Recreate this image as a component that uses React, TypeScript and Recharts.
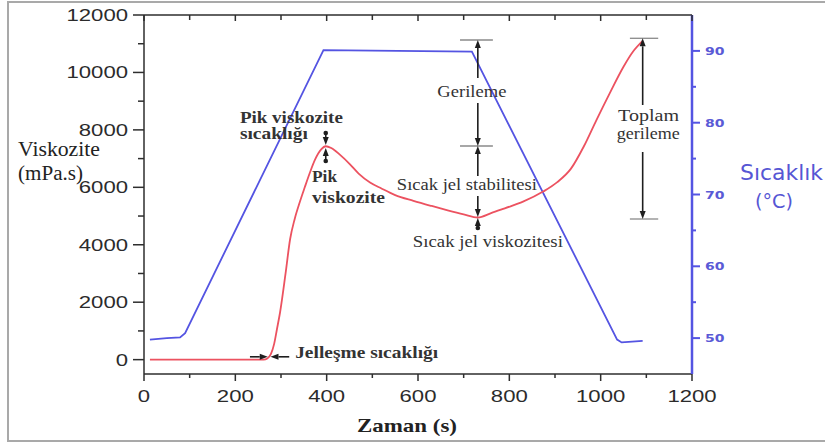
import { ComposedChart, Line, XAxis, YAxis, ReferenceLine, ReferenceDot } from 'recharts';

// axis ticks
const timeTicks = [0, 100, 200, 300, 400, 500, 600, 700, 800, 900, 1000, 1100, 1200];
const viscTicks = [0, 1000, 2000, 3000, 4000, 5000, 6000, 7000, 8000, 9000, 10000, 11000, 12000];
const tempTicks = [50, 55, 60, 65, 70, 75, 80, 85, 90];

// temperature program (blue, right axis)
const tempTime = [13, 50, 79, 90, 393, 718, 1036, 1046, 1092];
const tempValue = [49.8, 50.0, 50.1, 50.7, 90.1, 89.9, 49.8, 49.4, 49.6];

// viscosity curve (red, left axis)
const viscTime = [13, 150, 262, 270, 278, 285, 291, 298, 310, 320, 330, 341, 352, 363, 375, 388, 398, 410, 430, 450, 470, 495, 520, 550, 590, 630, 665, 700, 731, 760, 790, 830, 875, 905, 935, 963, 991, 1020, 1050, 1071, 1092];
const viscValue = [0, 0, 0, 40, 200, 550, 1050, 1650, 3000, 4200, 4900, 5480, 6000, 6500, 6980, 7320, 7430, 7370, 7120, 6820, 6480, 6170, 5960, 5730, 5530, 5350, 5200, 5060, 4950, 5100, 5270, 5500, 5860, 6180, 6650, 7420, 8350, 9280, 10200, 10730, 11100];

// annotation texts (time, viscosity of baseline)
const noteLabels = ['Pik viskozite', 'sıcaklığı', 'Pik', 'viskozite', 'Gerileme', 'Sıcak jel stabilitesi', 'Sıcak jel viskozitesi', 'Toplam', 'gerileme', 'Jelleşme sıcaklığı'];
const noteTime = [210, 210, 368, 368, 718, 707, 753, 1105, 1104, 331];
const noteVisc = [8240, 7683, 6185, 5454, 9145, 5907, 3922, 8309, 7683, 57];

// arrows: tail -> tip
const arrowFrom = [[731, 9806], [731, 8936], [731, 6394], [731, 5698], [731, 4584], [398, 7891], [398, 6916], [1092, 8866], [1092, 7230], [232, 99], [318, 99]];
const arrowTo = [[731, 11130], [731, 7439], [731, 7439], [731, 4967], [731, 4930], [398, 7474], [398, 7369], [1092, 11189], [1092, 4897], [271, 99], [277, 99]];
const arrowDot = [false, false, false, false, true, true, true, false, false, false, false];

// gray cap bars of the retrogradation markers
const capFrom = [692, 692, 1064, 1064];
const capTo = [764, 764, 1126, 1126];
const capVisc = [11130, 7439, 11189, 4897];

const tempData = tempTime.map((t, i) => ({ t, temp: tempValue[i] }));
const viscData = viscTime.map((t, i) => ({ t, visc: viscValue[i] }));

const PLOT_TOP = 15;
const AXIS = '#2e2e2e';
const RED = '#ec5260';
const BLUE = '#5454e2';
const SANS = '"Liberation Sans", Arial, sans-serif';
const SERIF = '"Liberation Serif", "Times New Roman", serif';
const WIDE = '"DejaVu Sans", Verdana, sans-serif';

// note text styling
const noteAnchor = ['start', 'start', 'start', 'start', 'middle', 'middle', 'middle', 'middle', 'middle', 'start'];
const noteWidth = [103, 68, 25, 73, 69, 140, 150, 61, 63, 143];
const noteBold = [true, true, true, true, false, false, false, false, false, true];

const BottomTick = ({ x, y, payload }: any) => {
  const major = payload.value % 200 === 0;
  const label = String(payload.value);
  return (
    <g>
      <line x1={x} x2={x} y1={y} y2={y + (major ? 7 : 4)} stroke={AXIS} strokeWidth={1.5} />
      <line x1={x} x2={x} y1={PLOT_TOP} y2={PLOT_TOP + (major ? 6 : 5)} stroke={AXIS} strokeWidth={1.5} />
      {major && (
        <text x={x} y={y + 28} textAnchor="middle" fontFamily={SANS} fontSize={17} fill="#2b2b2b"
          textLength={label.length * 12.3} lengthAdjust="spacingAndGlyphs">
          {label}
        </text>
      )}
    </g>
  );
};

const LeftTick = ({ x, y, payload }: any) => {
  const major = payload.value % 2000 === 0;
  const label = String(payload.value);
  return (
    <g>
      <line x1={x - (major ? 11 : 6)} x2={x} y1={y} y2={y} stroke={AXIS} strokeWidth={1.5} />
      {major && (
        <text x={x - 16} y={y + 6} textAnchor="end" fontFamily={SANS} fontSize={16} fill="#2b2b2b"
          textLength={label.length * 12.3} lengthAdjust="spacingAndGlyphs">
          {label}
        </text>
      )}
    </g>
  );
};

const RightTick = ({ x, y, payload }: any) => {
  const major = payload.value % 10 === 0;
  return (
    <g>
      <line x1={x} x2={x + (major ? 8 : 4)} y1={y} y2={y} stroke={BLUE} strokeWidth={2} />
      {major && (
        <text x={x + 13} y={y + 4} fontFamily={WIDE} fontWeight="bold" fontSize={11} fill="#5a5ad6"
          textLength={19.5} lengthAdjust="spacingAndGlyphs">
          {payload.value}
        </text>
      )}
    </g>
  );
};

const arrowShape = (dot: boolean) => (p: any) => {
  const { x1, y1, x2, y2 } = p;
  const len = Math.hypot(x2 - x1, y2 - y1) || 1;
  const ux = (x2 - x1) / len;
  const uy = (y2 - y1) / len;
  const bx = x2 - ux * 8;
  const by = y2 - uy * 8;
  const pts = `${x2},${y2} ${bx - uy * 3},${by + ux * 3} ${bx + uy * 3},${by - ux * 3}`;
  return (
    <g>
      <line x1={x1} y1={y1} x2={bx} y2={by} stroke="#1e1e1e" strokeWidth={1.6} />
      <polygon points={pts} fill="#1e1e1e" />
      {dot && <circle cx={x1} cy={y1} r={2.3} fill="#1e1e1e" />}
    </g>
  );
};

const noteShape = (i: number) => (p: any) => (
  <text x={p.cx} y={p.cy} textAnchor={noteAnchor[i]} fontFamily={SERIF} fontSize={16}
    fontWeight={noteBold[i] ? 'bold' : 'normal'} fill="#333"
    textLength={noteWidth[i]} lengthAdjust="spacingAndGlyphs">
    {noteLabels[i]}
  </text>
);

export default function App() {
  return (
    <div style={{ position: 'absolute', left: 0, top: 0, width: 825, height: 443, overflow: 'hidden', background: '#fff' }}>
      <div style={{ position: 'absolute', left: 7, top: 1, width: 850, height: 441, border: '2px solid #a9a9a9', boxSizing: 'border-box' }} />
      <div style={{ position: 'absolute', left: 0, top: 0 }}>
        <ComposedChart width={825} height={443} margin={{ top: PLOT_TOP, right: 73, bottom: 39, left: 84 }}>
          <XAxis dataKey="t" type="number" domain={[0, 1200]} ticks={timeTicks} interval={0}
            tick={<BottomTick />} tickSize={0} tickMargin={0} tickLine={false} height={30}
            axisLine={{ stroke: AXIS, strokeWidth: 1.5 }} allowDataOverflow />
          <YAxis yAxisId="left" domain={[-500, 12000]} ticks={viscTicks} interval={0}
            tick={<LeftTick />} tickSize={0} tickMargin={0} tickLine={false} width={60}
            axisLine={{ stroke: AXIS, strokeWidth: 1.5 }} allowDataOverflow />
          <YAxis yAxisId="right" orientation="right" domain={[45, 95]} ticks={tempTicks} interval={0}
            tick={<RightTick />} tickSize={0} tickMargin={0} tickLine={false} width={60}
            axisLine={{ stroke: BLUE, strokeWidth: 2.5 }} allowDataOverflow />

          <ReferenceLine yAxisId="left" y={12000} stroke={AXIS} strokeWidth={1.5} />

          {capVisc.map((v, i) => (
            <ReferenceLine key={'cap' + i} yAxisId="left"
              segment={[{ x: capFrom[i], y: v }, { x: capTo[i], y: v }]}
              stroke="#8a8a8a" strokeWidth={1.3} />
          ))}

          <Line data={tempData} yAxisId="right" dataKey="temp" type="linear" stroke={BLUE}
            strokeWidth={1.8} dot={false} isAnimationActive={false} />
          <Line data={viscData} yAxisId="left" dataKey="visc" type="monotone" stroke={RED}
            strokeWidth={1.8} dot={false} isAnimationActive={false} />

          {arrowFrom.map((a, i) => (
            <ReferenceLine key={'arr' + i} yAxisId="left"
              segment={[{ x: a[0], y: a[1] }, { x: arrowTo[i][0], y: arrowTo[i][1] }]}
              shape={arrowShape(arrowDot[i])} />
          ))}

          {noteLabels.map((_, i) => (
            <ReferenceDot key={'note' + i} yAxisId="left" x={noteTime[i]} y={noteVisc[i]} r={1}
              shape={noteShape(i)} />
          ))}
        </ComposedChart>
      </div>
      <svg width={825} height={443} style={{ position: 'absolute', left: 0, top: 0, pointerEvents: 'none' }}>
        <text x={18} y={156} fontFamily={SERIF} fontSize={21} fill="#222"
          textLength={82} lengthAdjust="spacingAndGlyphs">Viskozite</text>
        <text x={18} y={180} fontFamily={SERIF} fontSize={20} fill="#222"
          textLength={65} lengthAdjust="spacingAndGlyphs">(mPa.s)</text>
        <text x={357} y={432} fontFamily={SERIF} fontSize={19} fontWeight="bold" fill="#222"
          textLength={100} lengthAdjust="spacingAndGlyphs">Zaman (s)</text>
        <text x={740} y={180} fontFamily={WIDE} fontSize={21} fill="#5656d4"
          textLength={83} lengthAdjust="spacingAndGlyphs">Sıcaklık</text>
        <text x={755} y={208} fontFamily={WIDE} fontSize={19} fill="#5656d4"
          textLength={38} lengthAdjust="spacingAndGlyphs">(°C)</text>
      </svg>
    </div>
  );
}
